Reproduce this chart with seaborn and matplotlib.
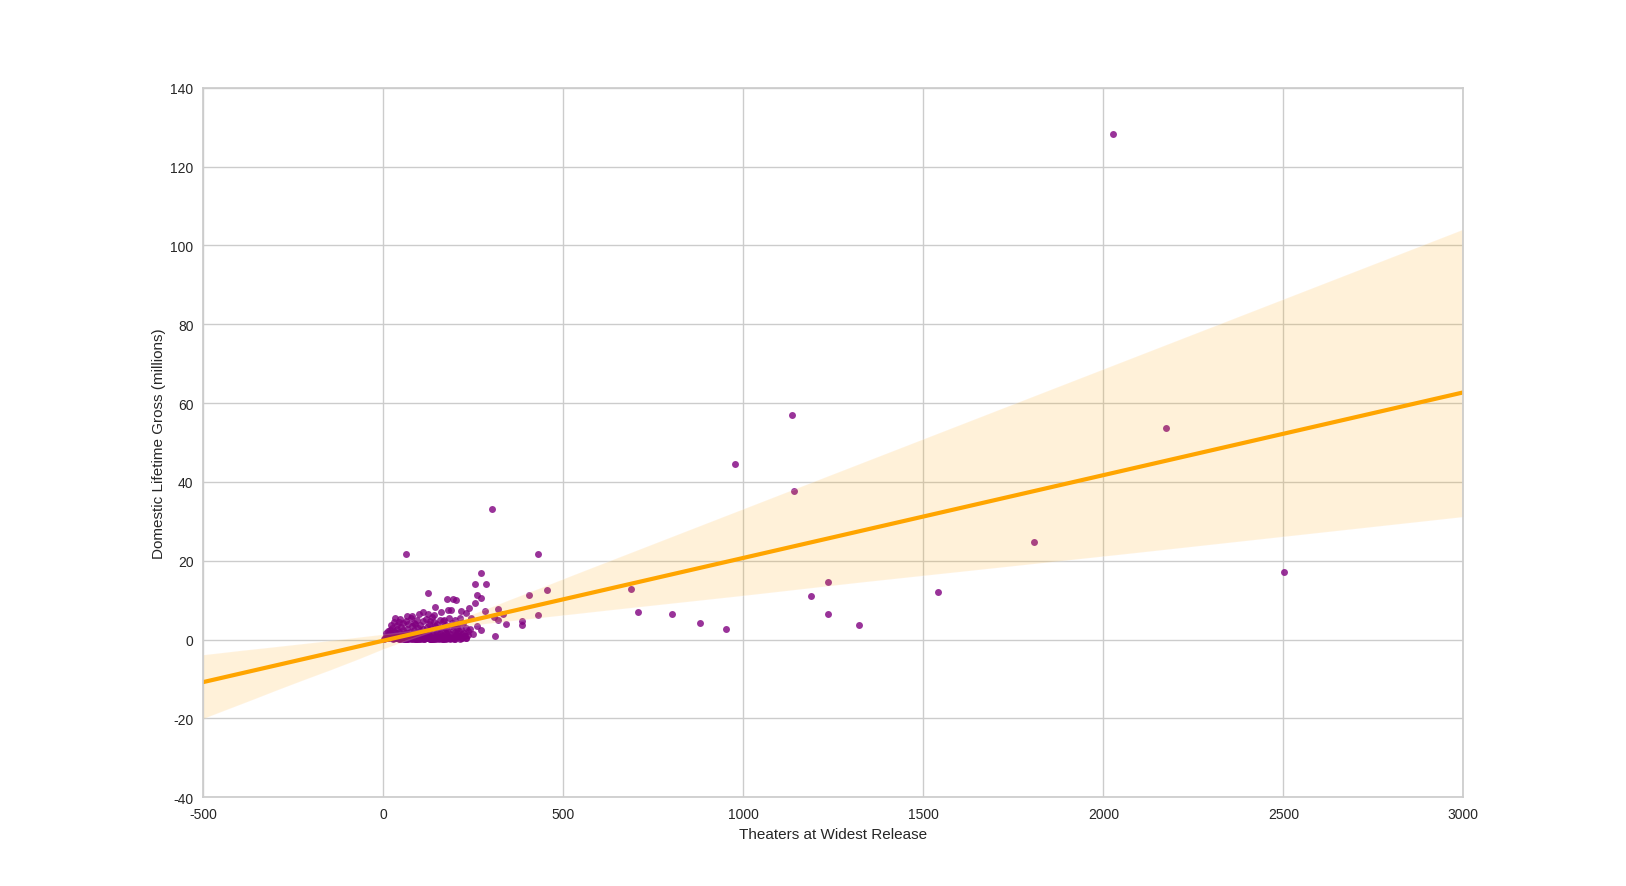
import pandas as pd
import matplotlib
matplotlib.use('Agg')
import matplotlib.pyplot as plt
import seaborn as sns

# big releases, far out on the right
wide_theaters = [2027, 2174, 1136, 978, 1142, 1808, 2502, 1540, 1235, 1188,
                 1235, 1321, 687, 707, 802, 880, 952]
wide_gross = [128.2, 53.7, 57.1, 44.5, 37.6, 24.7, 17.1, 12.1, 14.7, 11.1,
              6.6, 3.7, 12.9, 7.1, 6.6, 4.2, 2.6]

# mid-size releases
mid_theaters = [255, 285, 271, 63, 429, 301, 123, 454, 405, 318,
                282, 333, 308, 340, 384, 384, 429, 271, 309, 319,
                245, 260, 248, 240]
mid_gross = [14.0, 14.0, 16.8, 21.7, 21.8, 33.2, 11.9, 12.5, 11.2, 7.8,
             7.2, 6.6, 5.8, 4.0, 4.6, 3.8, 6.3, 2.5, 1.0, 5.1,
             5.6, 3.5, 1.5, 2.8]

# the dense cluster of small releases
small_theaters = [
    3, 6, 9, 12, 15, 18, 21, 24, 27, 30,
    33, 36, 40, 44, 48, 52, 56, 60, 64, 68,
    72, 76, 80, 85, 90, 95, 100, 105, 110, 115,
    120, 126, 132, 138, 144, 150, 157, 164, 171, 178,
    186, 194, 202, 210, 218, 225, 230, 234,
    8, 13, 19, 25, 31, 37, 43, 49, 55, 61,
    67, 73, 79, 85, 91, 97, 103, 109, 115, 121,
    127, 133, 139, 145, 151, 157, 163, 169, 175, 181,
    187, 193, 199, 205, 211, 217, 223, 229, 235, 20,
    22, 30, 38, 46, 54, 62, 70, 78, 86, 94,
    102, 110, 118, 126, 134, 142, 150, 158, 166, 174,
    182, 190, 198, 206, 214, 222, 45, 88, 130, 170,
    33, 79, 110, 144, 181, 187, 215, 239, 176, 194,
    202, 255, 259, 271, 98, 125, 160, 230, 140, 65,
    7, 16, 26, 34, 42, 51, 59, 66, 74, 83,
    92, 101, 112, 124, 136, 148, 162, 175, 190, 206,
    50, 70, 88, 108, 130, 155, 180, 200, 220, 45,
    41, 47, 54, 63, 71, 78, 87, 96, 104, 113,
    122, 129, 137, 146, 153, 161, 168, 177, 184, 192,
    58, 68, 82, 93, 106, 118, 128, 142, 152, 166,
    39, 57, 75, 99, 117, 135, 158, 173, 197, 212,
    24, 35, 46, 61, 77, 89, 102, 114, 127, 139,
    149, 163, 174, 188, 196, 208, 216, 226, 231, 52,
    29, 43, 66, 84, 97, 111, 133, 147, 171, 185,
    36, 55, 73, 91, 109, 121, 143, 159, 179, 203,
]
small_gross = [
    0.2, 0.5, 0.3, 0.8, 0.4, 0.9, 0.6, 1.1, 0.5, 0.8,
    1.2, 0.3, 0.7, 1.0, 0.4, 0.9, 0.6, 1.3, 0.5, 0.8,
    1.1, 0.4, 0.9, 0.6, 1.2, 0.7, 0.3, 1.0, 0.8, 0.5,
    1.3, 0.9, 0.6, 1.1, 0.4, 1.0, 0.7, 1.2, 0.5, 0.9,
    1.4, 0.6, 1.1, 0.8, 1.3, 0.9, 0.5, 1.2,
    1.8, 2.3, 1.6, 2.9, 2.1, 2.6, 1.9, 3.2, 2.4, 1.7,
    2.8, 2.0, 3.4, 2.5, 1.8, 3.0, 2.2, 2.7, 1.9, 3.3,
    2.4, 2.9, 2.0, 3.5, 2.6, 1.8, 3.1, 2.3, 2.8, 2.0,
    3.4, 2.5, 1.9, 3.0, 2.2, 2.7, 1.6, 2.9, 2.1, 2.5,
    3.8, 4.5, 3.6, 5.2, 4.1, 4.8, 3.9, 5.5, 4.3, 5.0,
    3.7, 4.6, 5.3, 4.0, 5.8, 4.4, 3.9, 5.1, 4.7, 3.6,
    5.4, 4.2, 4.9, 3.8, 5.6, 4.3, 4.4, 3.9, 4.6, 5.0,
    5.5, 6.1, 6.9, 8.2, 7.6, 7.6, 7.2, 8.0, 10.2, 10.2,
    10.0, 9.3, 11.4, 10.6, 6.4, 6.6, 7.0, 6.8, 6.2, 5.9,
    0.9, 1.5, 0.2, 1.7, 0.6, 1.4, 0.1, 1.8, 0.3, 1.6,
    0.2, 1.5, 0.1, 1.7, 0.3, 1.9, 0.2, 1.6, 0.4, 1.8,
    0.1, 0.2, 0.1, 0.3, 0.2, 0.1, 0.3, 0.2, 0.4, 0.1,
    0.3, 0.1, 0.5, 0.2, 0.4, 0.1, 0.6, 0.2, 0.3, 0.1,
    0.5, 0.2, 0.4, 0.1, 0.3, 0.6, 0.2, 0.4, 0.1, 0.3,
    0.2, 0.6, 0.1, 0.4, 0.2, 0.7, 0.3, 0.1, 0.5, 0.2,
    0.4, 0.2, 0.3, 0.1, 0.5, 0.2, 0.4, 0.1, 0.3, 0.2,
    0.6, 0.3, 0.9, 0.2, 0.7, 0.4, 1.0, 0.3, 0.8, 0.2,
    0.6, 0.9, 0.3, 0.7, 0.2, 1.0, 0.4, 0.8, 0.3, 0.5,
    0.4, 0.8, 0.2, 0.6, 0.3, 0.9, 0.2, 0.7, 0.4, 0.3,
    0.7, 0.3, 0.5, 0.2, 0.8, 0.4, 0.6, 0.3, 0.5, 0.9,
]

x_ticks = [-500, 0, 500, 1000, 1500, 2000, 2500, 3000]
y_ticks = [-40, -20, 0, 20, 40, 60, 80, 100, 120, 140]

movies = pd.DataFrame({
    'theaters': small_theaters + mid_theaters + wide_theaters,
    'gross': small_gross + mid_gross + wide_gross,
})

sns.set_theme(style='whitegrid')
plt.rcParams['font.family'] = ['Liberation Sans', 'DejaVu Sans']
plt.rcParams['axes.unicode_minus'] = False

fig, ax = plt.subplots(figsize=(16.26, 8.87), dpi=100)
fig.subplots_adjust(left=0.125, right=0.9, bottom=0.1, top=0.9)

# line should run across the whole x range
ax.set_xlim(-500, 3000)
sns.regplot(
    data=movies, x='theaters', y='gross', ax=ax,
    truncate=False, ci=95, n_boot=1000, seed=0,
    scatter_kws={'color': 'purple', 's': 25, 'alpha': 0.8, 'linewidths': 0},
    line_kws={'color': 'orange', 'lw': 3},
)
ax.set_xlim(-500, 3000)
ax.set_ylim(-40, 140)
ax.set_xticks(x_ticks)
ax.set_yticks(y_ticks)
ax.tick_params(labelsize=10, pad=1)

ax.set_xlabel('Theaters at Widest Release', fontsize=11, labelpad=4)
ax.set_ylabel('Domestic Lifetime Gross (millions)', fontsize=11, labelpad=3)

plt.savefig('out.png', dpi=100)
plt.close()
